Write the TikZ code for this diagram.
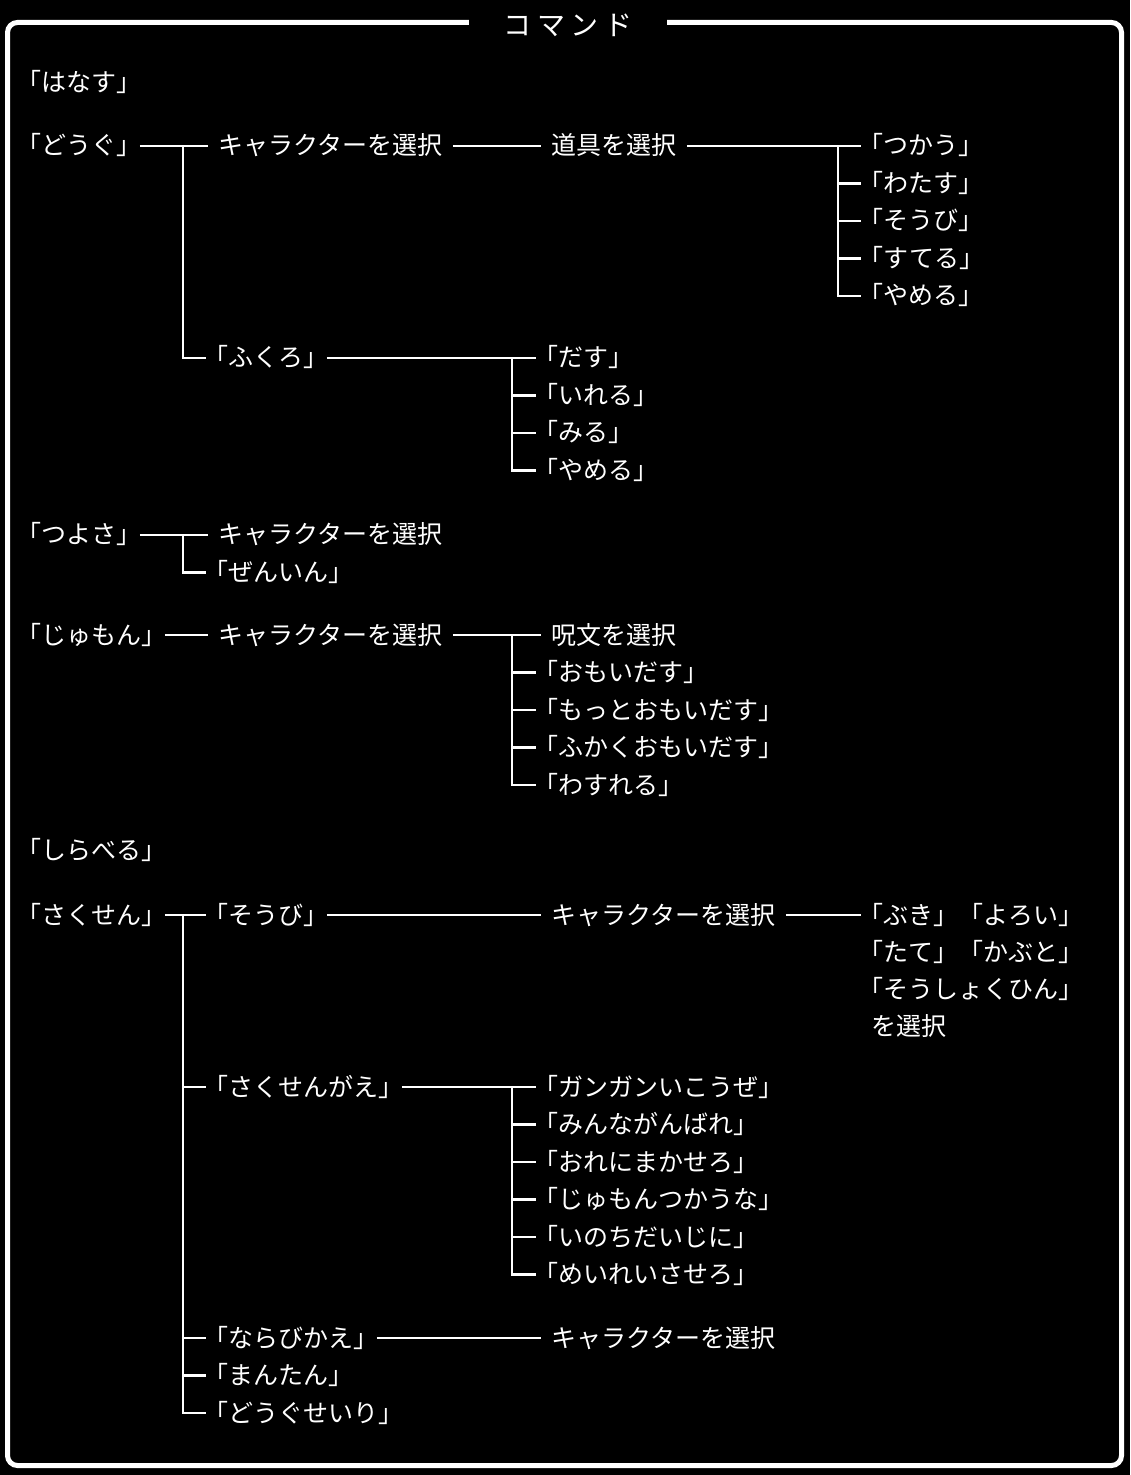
\documentclass[tikz,border=0pt]{standalone}
\usepackage{fontspec}
\newfontfamily\jpfont{Noto Sans CJK JP}[RawFeature=+halt]
\usepackage{tikz}
\usetikzlibrary{positioning}

\tikzset{
  menu/.style={anchor=west, text=white, inner xsep=5pt, inner ysep=2pt,
    text height=10.5pt, text depth=1.5pt,
    font=\jpfont\fontsize{12.5pt}{15pt}\selectfont},
  branch/.style={draw=white, line width=1.2pt},
}

\begin{document}
\begin{tikzpicture}[x=0.5pt, y=-0.5pt]
        \fill[black] (0,0) rectangle (1130,1475);
        \useasboundingbox (0,0) rectangle (1130,1475);
        \draw[white, line width=2.5pt, rounded corners=5pt] (7.5,22.5) rectangle (1121.5,1465.5);
        \node[menu, anchor=center, fill=black, inner xsep=17.5pt, font=\jpfont\fontsize{14pt}{16pt}\selectfont] (title) at (568,27) {コ\hskip.2emマ\hskip.2emン\hskip.2emド};

        \node[menu] (hanasu) at (19,83) {「はなす」};
        \node[menu] (dougu) at (19,146) {「どうぐ」};
        \node[menu] (tsuyosa) at (19,535) {「つよさ」};
        \node[menu] (jumon) at (19,635) {「じゅもん」};
        \node[menu] (shiraberu) at (19,850) {「しらべる」};
        \node[menu] (sakusen) at (19,915) {「さくせん」};

        % どうぐ
        \node[menu] (dchara) at (208,146) {キャラクターを選択};
        \node[menu] (ditem) at (541,146) {道具を選択};
        \node[menu] (fukuro) at (206,358) {「ふくろ」};
        \coordinate (dtrunk) at (183,146);
        \draw[branch] (dougu.east) -- (dchara.west);
        \draw[branch] (dchara.east) -- (ditem.west);
        \draw[branch] (dtrunk) |- (fukuro.west);

        \foreach \t [count=\i from 0] in {「つかう」,「わたす」,「そうび」,「すてる」,「やめる」} {
            \node[menu] (use\i) at (861,{146+37.5*\i}) {\t};
        }
        \coordinate (utrunk) at (838,146);
        \draw[branch] (ditem.east) -- (use0.west);
        \foreach \i in {1,...,4} {
            \draw[branch] (utrunk) |- (use\i.west);
        }

        \foreach \t [count=\i from 0] in {「だす」,「いれる」,「みる」,「やめる」} {
            \node[menu] (bag\i) at (536,{358+37.5*\i}) {\t};
        }
        \coordinate (btrunk) at (512,358);
        \draw[branch] (fukuro.east) -- (bag0.west);
        \foreach \i in {1,...,3} {
            \draw[branch] (btrunk) |- (bag\i.west);
        }

        % つよさ
        \node[menu] (tchara) at (208,535) {キャラクターを選択};
        \node[menu] (zenin) at (206,572.5) {「ぜんいん」};
        \coordinate (ttrunk) at (183,535);
        \draw[branch] (tsuyosa.east) -- (tchara.west);
        \draw[branch] (ttrunk) |- (zenin.west);

        % じゅもん
        \node[menu] (jchara) at (208,635) {キャラクターを選択};
        \node[menu] (spell0) at (541,635) {呪文を選択};
        \draw[branch] (jumon.east) -- (jchara.west);
        \draw[branch] (jchara.east) -- (spell0.west);
        \foreach \t [count=\i from 1] in {「おもいだす」,「もっとおもいだす」,「ふかくおもいだす」,「わすれる」} {
            \node[menu] (spell\i) at (536,{635+37.5*\i}) {\t};
        }
        \coordinate (strunk) at (512,635);
        \foreach \i in {1,...,4} {
            \draw[branch] (strunk) |- (spell\i.west);
        }

        % さくせん
        \node[menu] (soubi) at (206,915) {「そうび」};
        \node[menu] (kae) at (206,1087) {「さくせんがえ」};
        \node[menu] (narabi) at (206,1338) {「ならびかえ」};
        \node[menu] (mantan) at (206,1375.5) {「まんたん」};
        \node[menu] (seiri) at (206,1413) {「どうぐせいり」};
        \coordinate (ktrunk) at (183,915);
        \draw[branch] (sakusen.east) -- (soubi.west);
        \foreach \n in {kae,narabi,mantan,seiri} {
            \draw[branch] (ktrunk) |- (\n.west);
        }

        \node[menu] (schara) at (541,915) {キャラクターを選択};
        \draw[branch] (soubi.east) -- (schara.west);
        \foreach \t [count=\i from 0] in {「ぶき」\hspace{1em}「よろい」,「たて」\hspace{1em}「かぶと」,「そうしょくひん」,を選択} {
            \node[menu] (equip\i) at (861,{915+37*\i}) {\t};
        }
        \draw[branch] (schara.east) -- (equip0.west);

        \foreach \t [count=\i from 0] in {「ガンガンいこうぜ」,「みんながんばれ」,「おれにまかせろ」,「じゅもんつかうな」,「いのちだいじに」,「めいれいさせろ」} {
            \node[menu] (order\i) at (536,{1087+37.5*\i}) {\t};
        }
        \coordinate (otrunk) at (512,1087);
        \draw[branch] (kae.east) -- (order0.west);
        \foreach \i in {1,...,5} {
            \draw[branch] (otrunk) |- (order\i.west);
        }

        \node[menu] (nchara) at (541,1338) {キャラクターを選択};
        \draw[branch] (narabi.east) -- (nchara.west);
    \end{tikzpicture}
\end{document}
